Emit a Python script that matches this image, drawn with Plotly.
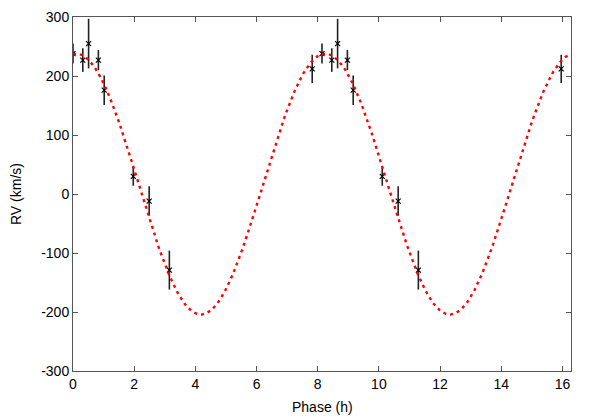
import numpy as np
import plotly.graph_objects as go

# Observed radial velocities (one orbital cycle), phase in hours
phase = [0.00, 0.32, 0.51, 0.83, 1.02, 1.97, 2.49, 3.15, 7.82]
rv = [238, 227, 255, 227, 176, 30, -12, -129, 212]
rv_err = [17, 20, 42, 17, 25, 16, 25, 33, 24]

# Fitted orbit parameters
period = 8.14      # h
gamma = 16.75      # km/s
K = 221.0          # km/s
t_max = 0.11       # h, phase of maximum velocity

x_ticks = [0, 2, 4, 6, 8, 10, 12, 14, 16]
y_ticks = [-300, -200, -100, 0, 100, 200, 300]
y_tick_labels = ["-300", "-200", "-100", "0", "100", "200", "300"]

# Data is plotted twice (two cycles)
px = phase + [p + period for p in phase]
py = rv + rv
pe = rv_err + rv_err

xm = np.linspace(0, 2 * period, 600)
ym = gamma + K * np.cos(2 * np.pi * (xm - t_max) / period)

fig = go.Figure()
fig.add_trace(go.Scatter(
    x=px, y=py, mode="markers",
    marker=dict(symbol="x-thin", size=5, line=dict(width=1.2, color="black"), color="black"),
    error_y=dict(type="data", array=pe, visible=True, width=0, thickness=1.6, color="#222222"),
    showlegend=False,
))
fig.add_trace(go.Scatter(
    x=xm, y=ym, mode="lines",
    line=dict(color="#ff0000", width=2.4, dash="3px,4px"),
    showlegend=False,
))

font = dict(family="Liberation Sans", size=14, color="black")
axis_common = dict(
    showline=True, linecolor="#555555", linewidth=1, mirror="ticks",
    ticks="inside", ticklen=5, tickcolor="#555555", tickwidth=1,
    showgrid=False, zeroline=False, automargin=False,
    tickfont=font,
)
fig.update_xaxes(range=[0, 2 * period], tickvals=x_ticks, **axis_common)
fig.update_yaxes(range=[-300, 300], tickvals=y_ticks, ticktext=y_tick_labels, **axis_common)

# The page body adds an 8px offset; plot area spans page x 73..571, y 17..371
W, H = 590, 411
ml, mr, mt, mb = 65, 27, 9, 48
pw, ph = W - ml - mr, H - mt - mb
fig.update_layout(
    width=W, height=H,
    margin=dict(l=ml, r=mr, t=mt, b=mb),
    plot_bgcolor="white", paper_bgcolor="white",
    annotations=[
        dict(text="Phase (h)", x=(322 - 73) / pw, y=-(407 - 371) / ph,
             xref="paper", yref="paper", showarrow=False, font=font,
             xanchor="center", yanchor="middle"),
        dict(text="RV (km/s)", x=-(73 - 16) / pw, y=0.5,
             xref="paper", yref="paper", showarrow=False, font=font, textangle=-90,
             xanchor="center", yanchor="middle"),
    ],
)
fig.write_html("out.html")
